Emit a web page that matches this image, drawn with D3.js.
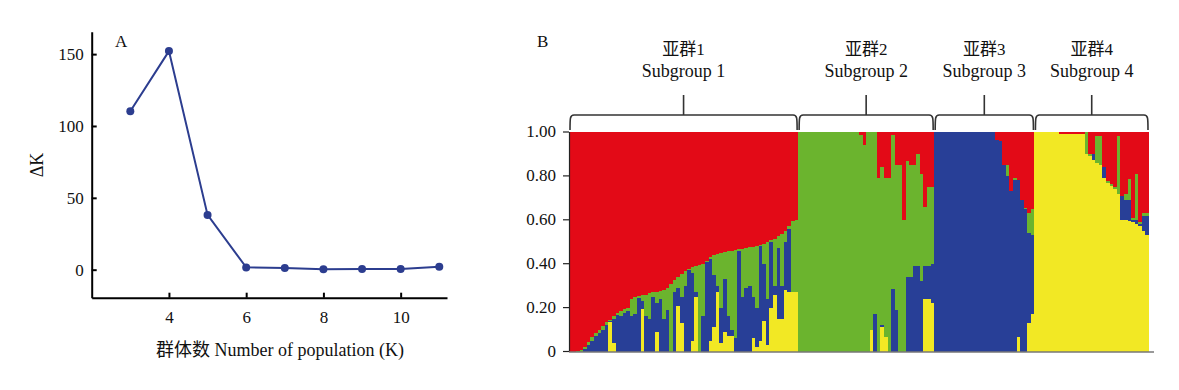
<!DOCTYPE html>
<meta charset="utf-8">
<head>
<title>Delta K and structure plot</title>
<script type="text/javascript" src="https://d3js.org/d3.v7.min.js"></script>
<style>
    body { margin: 0; background: #fff; }
    text { font-family: "Liberation Serif", "Noto Sans CJK SC", serif; fill: #111; }
</style>
</head>

<body>
<div id="chart"></div>

<script>

    // panel A data: delta K for each K
    var kValues = [3, 4, 5, 6, 7, 8, 9, 10, 11];
    var deltaK = [110.3, 152.1, 38.1, 1.6, 1.2, 0.3, 0.4, 0.4, 2.1];
    var kTicks = [4, 6, 8, 10];
    var deltaTicks = [0, 50, 100, 150];

    // panel B data: per individual, cumulative tops of [yellow, blue, green], red fills the rest
    var sub1Q = [
        [0, 0, 0], [0, 0, 0], [0, 0, 0.003], [0, 0, 0.008], [0, 0.012, 0.023], [0, 0.032, 0.045],
        [0, 0.05, 0.065], [0, 0.07, 0.085], [0, 0.085, 0.10], [0, 0.10, 0.115], [0, 0.12, 0.135],
        [0.135, 0.14, 0.145], [0.04, 0.15, 0.16], [0, 0.165, 0.175], [0, 0.16, 0.185], [0, 0.175, 0.195],
        [0, 0.185, 0.20], [0, 0.16, 0.24], [0, 0.17, 0.25], [0, 0.245, 0.255], [0.195, 0.23, 0.26],
        [0, 0.16, 0.26], [0, 0.15, 0.265], [0, 0.25, 0.27], [0.09, 0.22, 0.272], [0, 0.24, 0.278],
        [0, 0.15, 0.28], [0, 0.19, 0.29], [0, 0, 0.31], [0, 0.27, 0.325], [0.21, 0.29, 0.34],
        [0.13, 0.25, 0.353], [0, 0.30, 0.365], [0, 0.37, 0.375], [0.05, 0.36, 0.385], [0.25, 0.27, 0.39],
        [0, 0, 0.395], [0, 0.16, 0.40], [0, 0.41, 0.415], [0.05, 0.42, 0.43], [0.11, 0.35, 0.44],
        [0.27, 0.30, 0.445], [0.04, 0.20, 0.45], [0.09, 0.33, 0.455], [0.07, 0.16, 0.458], [0.07, 0.10, 0.46],
        [0, 0.06, 0.463], [0, 0.46, 0.466], [0, 0.25, 0.468], [0, 0.29, 0.472], [0, 0.30, 0.475],
        [0.06, 0.25, 0.478], [0.02, 0.20, 0.482], [0.05, 0.48, 0.487], [0.14, 0.40, 0.492], [0.03, 0.24, 0.50],
        [0.20, 0.50, 0.51], [0.26, 0.30, 0.515], [0.15, 0.47, 0.525], [0.15, 0.30, 0.535], [0.28, 0.50, 0.55],
        [0.27, 0.56, 0.57], [0.27, 0.27, 0.595], [0.27, 0.27, 0.60]
    ];
    var sub2Q = [
        [0, 0, 1], [0, 0, 1], [0, 0, 1], [0, 0, 1], [0, 0, 1], [0, 0, 1], [0, 0, 1], [0, 0, 1], [0, 0, 1],
        [0, 0, 1], [0, 0, 1], [0, 0, 1], [0, 0, 1], [0, 0, 1], [0, 0, 1], [0, 0, 1], [0, 0, 1],
        [0, 0, 0.985], [0, 0, 0.94], [0, 0, 1], [0.10, 0.10, 1], [0, 0.17, 1], [0, 0, 0.79],
        [0.11, 0.12, 0.84], [0.065, 0.065, 0.79], [0, 0, 0.79], [0, 0.285, 0.985], [0, 0.19, 0.85],
        [0, 0, 0.85], [0, 0, 0.60], [0, 0.34, 0.87], [0, 0.34, 0.85], [0, 0.39, 0.85], [0, 0.39, 0.90],
        [0, 0.32, 0.81], [0.24, 0.39, 0.66], [0.24, 0.39, 0.75], [0.22, 0.40, 0.75]
    ];
    var sub3Q = [
        [0, 1, 1], [0, 1, 1], [0, 1, 1], [0, 1, 1], [0, 1, 1], [0, 1, 1], [0, 1, 1], [0, 1, 1], [0, 1, 1],
        [0, 1, 1], [0, 1, 1], [0, 1, 1], [0, 1, 1], [0, 1, 1], [0, 1, 1], [0, 1, 1], [0, 1, 1],
        [0, 0.965, 0.965], [0, 0.96, 0.96], [0, 0.85, 0.85], [0, 0.80, 0.85], [0, 0.73, 0.73],
        [0, 0.78, 0.79], [0.065, 0.78, 0.78], [0, 0.69, 0.69], [0, 0.65, 0.655], [0.13, 0.54, 0.63],
        [0.17, 0.53, 0.65]
    ];
    var sub4Q = [
        [1, 1, 1], [1, 1, 1], [1, 1, 1], [1, 1, 1], [1, 1, 1], [1, 1, 1], [1, 1, 1],
        [0.99, 0.99, 0.99], [0.99, 0.99, 0.99], [0.99, 0.99, 0.99], [0.99, 0.99, 0.99], [0.99, 0.99, 0.99],
        [0.99, 0.99, 0.99], [0.99, 0.99, 0.99], [0.90, 0.90, 1], [0.89, 0.89, 0.90], [0.875, 0.90, 0.90],
        [0.86, 0.86, 0.98], [0.85, 0.85, 0.98], [0.79, 0.84, 0.84], [0.77, 0.77, 0.775], [0.755, 0.755, 0.765],
        [0.74, 0.74, 0.75], [0.72, 0.72, 0.98], [0.60, 0.71, 0.71], [0.60, 0.69, 0.72], [0.595, 0.69, 0.785],
        [0.59, 0.60, 0.61], [0.58, 0.60, 0.81], [0.57, 0.58, 0.59], [0.55, 0.62, 0.63], [0.53, 0.62, 0.63]
    ];
    var subgroupsCn = ["亚群1", "亚群2", "亚群3", "亚群4"];
    var subgroupsEn = ["Subgroup 1", "Subgroup 2", "Subgroup 3", "Subgroup 4"];
    var qTicks = [0, 0.2, 0.4, 0.6, 0.8, 1];

    var clusterKeys = ["yellow", "blue", "green", "red"];
    var clusterColors = {yellow: "#f2e824", blue: "#283f97", green: "#6bb42e", red: "#e30a17"};
    var lineColor = "#2c3d8f";

    var width = 1179, height = 390;

    var svg = d3.select("#chart")
                .append("svg")
                .attr("width", width)
                .attr("height", height);

    // ---------- panel A ----------
    var xA = d3.scaleLinear().domain([2, 11.2]).range([91.7, 447]);
    var yA = d3.scaleLinear().domain([-19.5, 165.6]).range([297.7, 31.7]);

    var gA = svg.append("g");

    var axA_y = gA.append("g")
        .attr("transform", "translate(" + xA.range()[0] + ",0)")
        .call(d3.axisLeft(yA).tickValues(deltaTicks).tickSize(-5).tickSizeOuter(0).tickPadding(8));
    var axA_x = gA.append("g")
        .attr("transform", "translate(0," + yA.range()[0] + ")")
        .call(d3.axisBottom(xA).tickValues(kTicks).tickSize(-5).tickSizeOuter(0).tickPadding(13));

    [axA_y, axA_x].forEach(function(a) {
        a.selectAll("path, line").attr("stroke", "#000").attr("stroke-width", 2);
        a.selectAll("text").style("font-size", "17px").attr("fill", "#111");
    });

    var ptsA = kValues.map(function(k, i) { return [k, deltaK[i]]; });

    gA.append("path")
        .datum(ptsA)
        .attr("fill", "none")
        .attr("stroke", lineColor)
        .attr("stroke-width", 2)
        .attr("d", d3.line().x(function(d) { return xA(d[0]); }).y(function(d) { return yA(d[1]); }));

    gA.selectAll("circle")
        .data(ptsA)
        .enter()
        .append("circle")
        .attr("cx", function(d) { return xA(d[0]); })
        .attr("cy", function(d) { return yA(d[1]); })
        .attr("r", 4)
        .attr("fill", lineColor);

    gA.append("text").attr("x", 115).attr("y", 47).style("font-size", "17px").text("A");

    gA.append("text")
        .attr("transform", "translate(43,165) rotate(-90)")
        .attr("text-anchor", "middle")
        .style("font-size", "18px")
        .text("ΔK");

    gA.append("text")
        .attr("x", 280).attr("y", 356)
        .attr("text-anchor", "middle")
        .style("font-size", "18px")
        .text("群体数 Number of population (K)");

    // ---------- panel B ----------
    var groups = [sub1Q, sub2Q, sub3Q, sub4Q];
    var rows = [];
    groups.forEach(function(g, gi) {
        g.forEach(function(q) {
            rows.push({
                group: gi,
                yellow: q[0],
                blue: q[1] - q[0],
                green: q[2] - q[1],
                red: 1 - q[2]
            });
        });
    });
    rows.forEach(function(r, i) { r.id = i; });

    var xB = d3.scaleBand().domain(d3.range(rows.length)).range([569, 1149]);
    var yB = d3.scaleLinear().domain([0, 1]).range([351, 131.5]);

    var series = d3.stack().keys(clusterKeys)(rows);

    // flatten segments and draw individual by individual, so each bar covers the seam of the one before
    var segs = [];
    series.forEach(function(s) {
        s.forEach(function(d) {
            if (d[1] - d[0] > 0) segs.push({key: s.key, id: d.data.id, y0: d[0], y1: d[1]});
        });
    });
    segs.sort(function(a, b) { return a.id - b.id || clusterKeys.indexOf(a.key) - clusterKeys.indexOf(b.key); });

    var gB = svg.append("g");

    gB.append("g")
        .attr("shape-rendering", "crispEdges")
        .selectAll("rect")
        .data(segs)
        .enter()
        .append("rect")
        .attr("x", function(d) { return xB(d.id); })
        .attr("width", function(d) { return d.id === rows.length - 1 ? xB.bandwidth() : xB.bandwidth() + 1; })
        .attr("y", function(d) { return yB(d.y1); })
        .attr("height", function(d) { return yB(d.y0) - yB(d.y1) + 0.6; })
        .attr("fill", function(d) { return clusterColors[d.key]; });

    var axB = gB.append("g")
        .attr("transform", "translate(" + xB.range()[0] + ",0)")
        .call(d3.axisLeft(yB).tickValues(qTicks).tickSize(6).tickSizeOuter(0).tickPadding(7)
              .tickFormat(function(d) { return d === 0 ? "0" : d3.format(".2f")(d); }));
    axB.selectAll("path, line").attr("stroke", "#222").attr("stroke-width", 1.2);
    axB.selectAll("text").style("font-size", "17px").attr("fill", "#111");

    gB.append("line")
        .attr("x1", xB.range()[0]).attr("x2", xB.range()[1] + 5)
        .attr("y1", yB(0) + 1).attr("y2", yB(0) + 1)
        .attr("stroke", "#777").attr("stroke-width", 1.5);

    gB.append("text").attr("x", 537).attr("y", 47).style("font-size", "17px").text("B");

    // brackets and labels over each subgroup
    var bw = xB.bandwidth();
    var starts = [];
    var s0 = 0;
    groups.forEach(function(g) { starts.push([s0, s0 + g.length - 1]); s0 += g.length; });

    starts.forEach(function(se, gi) {
        var left = xB(se[0]) + 1, right = xB(se[1]) + bw - 1, mid = (left + right) / 2;
        var top = 115, bot = 130;
        gB.append("path")
            .attr("d", "M" + left + "," + bot + " C" + left + "," + (top + 3) + " " + left + "," + top + " " + (left + 4) + "," + top +
                       " H" + (right - 4) + " C" + right + "," + top + " " + right + "," + (top + 3) + " " + right + "," + bot +
                       " M" + mid + "," + top + " V" + (top - 20))
            .attr("fill", "none")
            .attr("stroke", "#333")
            .attr("stroke-width", 1.6);

        gB.append("text")
            .attr("x", mid).attr("y", 55)
            .attr("text-anchor", "middle")
            .style("font-size", "17px")
            .text(subgroupsCn[gi]);
        gB.append("text")
            .attr("x", mid).attr("y", 77)
            .attr("text-anchor", "middle")
            .style("font-size", "18px")
            .text(subgroupsEn[gi]);
    });
</script>

</body>

</html>
